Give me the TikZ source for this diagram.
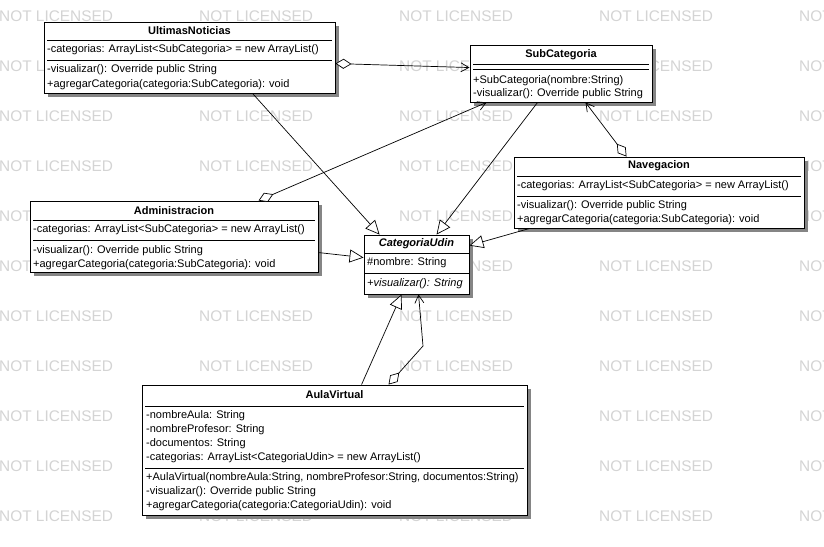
\documentclass[tikz,border=0pt]{standalone}
\usepackage{fontspec}
\setmainfont{Liberation Sans}
\usetikzlibrary{arrows.meta,shadows,calc}
\begin{document}
\begin{tikzpicture}[x=1pt,y=-1pt,
  cls/.style={draw=black, fill=white, line width=0.9pt, inner sep=0pt,
    drop shadow={shadow xshift=3.5pt, shadow yshift=-3.5pt, fill=black!48, opacity=1}},
  ttl/.style={font=\fontsize{11}{13}\selectfont\bfseries, inner sep=0pt},
  mem/.style={font=\fontsize{11}{13}\selectfont, inner sep=0pt, anchor=west},
  sepline/.style={line width=0.8pt},
  wm/.style={font=\fontsize{15.4}{17}\selectfont, text=black!17, inner sep=0pt, anchor=west},
  gen/.style={line width=0.7pt, -{Triangle[open, length=14pt, width=13pt, fill=white]}},
  agg/.style={line width=0.7pt, {Diamond[open, length=16pt, width=10pt, fill=white]}-{Straight Barb[length=8pt, width=9pt]}},
]
\useasboundingbox (0,0) rectangle (824,546);
\fill[white] (0,0) rectangle (824,546);
\clip (0,0) rectangle (824,546);

% watermark
\foreach \i in {0,...,4}{
  \foreach \j in {0,...,10}{
    \node[wm] (wm\i-\j) at ({200*\i-1},{16+50*\j}) {NOT LICENSED};
  }
}

% class boxes
\node[cls, minimum width=291pt, minimum height=71pt] (un) at (189.5,57.5) {};
\node[cls, minimum width=182pt, minimum height=57pt] (sc) at (561,73.5) {};
\node[cls, minimum width=288pt, minimum height=71pt] (ad) at (174,236.5) {};
\node[cls, minimum width=290pt, minimum height=71pt] (nv) at (659,192.5) {};
\node[cls, minimum width=105pt, minimum height=59pt] (cu) at (416.5,264.5) {};
\node[cls, minimum width=385pt, minimum height=130pt] (av) at (334.5,450) {};

% UltimasNoticias
\node[ttl] (un-t) at (189.5,31) {UltimasNoticias};
\draw[sepline] (47,40) -- (332,40);
\node[mem] (un-a1) at (47,49.5) {-categorias: ArrayList<SubCategoria> = new ArrayList()};
\draw[sepline] (47,60) -- (332,60);
\node[mem] (un-m1) at (47,70) {-visualizar(): Override public String};
\node[mem] (un-m2) at (47,84.5) {+agregarCategoria(categoria:SubCategoria): void};

% SubCategoria
\node[ttl] (sc-t) at (561,55) {SubCategoria};
\draw[sepline] (473,64) -- (649,64);
\draw[sepline] (473,69) -- (649,69);
\node[mem] (sc-m1) at (473,81) {+SubCategoria(nombre:String)};
\node[mem] (sc-m2) at (473,94) {-visualizar(): Override public String};

% Administracion
\node[ttl] (ad-t) at (174,210.5) {Administracion};
\draw[sepline] (33,220) -- (315,220);
\node[mem] (ad-a1) at (33,230) {-categorias: ArrayList<SubCategoria> = new ArrayList()};
\draw[sepline] (33,240) -- (315,240);
\node[mem] (ad-m1) at (33,251) {-visualizar(): Override public String};
\node[mem] (ad-m2) at (33,264.5) {+agregarCategoria(categoria:SubCategoria): void};

% Navegacion
\node[ttl] (nv-t) at (659,166) {Navegacion};
\draw[sepline] (517,176) -- (801,176);
\node[mem] (nv-a1) at (517,186) {-categorias: ArrayList<SubCategoria> = new ArrayList()};
\draw[sepline] (517,196.5) -- (801,196.5);
\node[mem] (nv-m1) at (517,206) {-visualizar(): Override public String};
\node[mem] (nv-m2) at (517,219.5) {+agregarCategoria(categoria:SubCategoria): void};

% CategoriaUdin
\node[ttl, font=\fontsize{11}{13}\selectfont\bfseries\itshape] (cu-t) at (416.5,244) {CategoriaUdin};
\draw[sepline] (364,253) -- (469,253);
\node[mem] (cu-a1) at (367,263) {\#nombre: String};
\draw[sepline] (364,273) -- (469,273);
\node[mem, font=\fontsize{11}{13}\selectfont\itshape] (cu-m1) at (367,284) {+visualizar(): String};

% AulaVirtual
\node[ttl] (av-t) at (334.5,395) {AulaVirtual};
\draw[sepline] (145,406) -- (524,406);
\node[mem] (av-a1) at (146,415.5) {-nombreAula: String};
\node[mem] (av-a2) at (146,430) {-nombreProfesor: String};
\node[mem] (av-a3) at (146,444) {-documentos: String};
\node[mem] (av-a4) at (146,458) {-categorias: ArrayList<CategoriaUdin> = new ArrayList()};
\draw[sepline] (145,468) -- (524,468);
\node[mem] (av-m1) at (146,478) {+AulaVirtual(nombreAula:String, nombreProfesor:String, documentos:String)};
\node[mem] (av-m2) at (146,492) {-visualizar(): Override public String};
\node[mem] (av-m3) at (146,506) {+agregarCategoria(categoria:CategoriaUdin): void};

% connectors
\draw[agg] ($(un.north east)+(0,42)$) -- ($(sc.north west)+(0,23)$);
\draw[gen] ($(un.south west)+(209,0)$) -- ($(cu.north west)+(16,0)$);
\draw[gen] ($(sc.south west)+(68,0)$) -- ($(cu.north west)+(73,0)$);
\draw[agg] ($(nv.north west)+(113,0)$) -- ($(sc.south west)+(116,0)$);
\draw[gen] ($(nv.south west)+(16,0)$) -- ($(cu.north east)+(0,11)$);
\draw[gen] ($(ad.north east)+(0,52)$) -- ($(cu.north west)+(0,23)$);
\draw[agg] ($(ad.north west)+(229,0)$) -- ($(sc.south west)+(17,0)$);
\draw[gen] ($(av.north west)+(220,0)$) -- ($(cu.south west)+(38,0)$);
\coordinate (bend) at (423,346);
\draw[agg] ($(av.north west)+(247,0)$) -- (bend) -- ($(cu.south west)+(55,0)$);
\end{tikzpicture}
\end{document}
